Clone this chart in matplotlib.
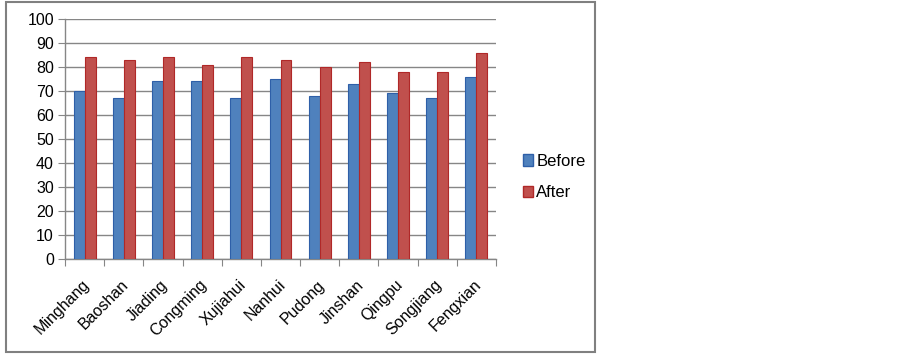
import matplotlib
matplotlib.use("Agg")
import matplotlib.pyplot as plt
from matplotlib.patches import Patch, Rectangle
from matplotlib.transforms import ScaledTranslation
import numpy as np

categories = ["Minghang", "Baoshan", "Jiading", "Congming", "Xujiahui", "Nanhui",
              "Pudong", "Jinshan", "Qingpu", "Songjiang", "Fengxian"]
before = [70, 67, 74, 74, 67, 75, 68, 73, 69, 67, 76]
after = [84, 83, 84, 81, 84, 83, 80, 82, 78, 78, 86]
yticks = [0, 10, 20, 30, 40, 50, 60, 70, 80, 90, 100]

plt.rcParams['font.family'] = ['Liberation Sans', 'DejaVu Sans']

W, H = 903, 354
fig = plt.figure(figsize=(W / 100, H / 100), dpi=100)
ax = fig.add_axes([65 / W, 1 - 259 / H, (496 - 65) / W, (259 - 19) / H])

blue = "#4F81BD"
red = "#C0504D"
x = np.arange(len(categories))
bw = 0.28
ax.bar(x - bw / 2, before, bw, color=blue, edgecolor="#2E5FA8", linewidth=0.8, label="Before", zorder=3)
ax.bar(x + bw / 2, after, bw, color=red, edgecolor="#B02828", linewidth=0.8, label="After", zorder=3)

ax.set_xlim(-0.5, len(categories) - 0.5)
ax.set_ylim(0, 100)
ax.set_yticks(yticks)
ax.set_yticklabels([str(v) for v in yticks], fontsize=11.5)
ax.yaxis.grid(True, color="#868686", linewidth=1.0, zorder=0)
ax.set_xticks(np.arange(len(categories) + 1) - 0.5, minor=False)
ax.set_xticklabels([])
ax.set_xticks(x, minor=True)
ax.set_xticklabels(categories, minor=True, rotation=45, ha="right",
                   rotation_mode="anchor", fontsize=11.5)
ax.tick_params(axis="x", which="minor", length=0, pad=13)
ax.tick_params(axis="x", which="major", length=5, color="#868686", direction="out")
ax.tick_params(axis="y", length=5, color="#868686", direction="out", pad=3)
shift = ScaledTranslation(-3 / 100, 0, fig.dpi_scale_trans)
for lbl in ax.get_xticklabels(minor=True):
    lbl.set_transform(lbl.get_transform() + shift)
for s in ["top", "right"]:
    ax.spines[s].set_visible(False)
for s in ["left", "bottom"]:
    ax.spines[s].set_color("#868686")
    ax.spines[s].set_linewidth(1.0)

handles = [Patch(facecolor=blue, edgecolor="#2E5FA8", label="Before"),
           Patch(facecolor=red, edgecolor="#B02828", label="After")]
fig.legend(handles=handles, loc="center left", bbox_to_anchor=(508 / W, 1 - 177 / H),
           frameon=False, fontsize=12, handlelength=0.6, handleheight=0.7,
           handletextpad=0.2, labelspacing=1.0)

fig.patches.append(Rectangle((6 / W, 2 / H), (595 - 6) / W, (352 - 2) / H,
                             transform=fig.transFigure, fill=False,
                             edgecolor="#808080", linewidth=1.5))

fig.savefig("out.png", dpi=100)
